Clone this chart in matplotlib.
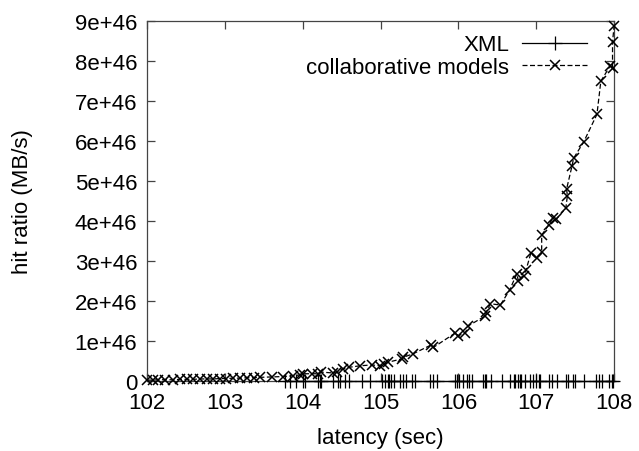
import matplotlib
matplotlib.use("Agg")
import matplotlib.pyplot as plt

plt.rcParams['font.family'] = ['Liberation Sans', 'DejaVu Sans']

# XML series (all at zero)
xml_x = [103.77, 103.84, 103.91, 104.01, 104.03, 104.20, 104.22, 104.24, 104.39,
         104.46, 104.48, 104.54, 104.59, 104.76, 104.87, 105.02, 105.06, 105.09,
         105.11, 105.14, 105.17, 105.25, 105.29, 105.33, 105.40, 105.44, 105.64,
         105.68, 105.72, 105.96, 105.98, 106.01, 106.06, 106.11, 106.14, 106.17,
         106.32, 106.34, 106.36, 106.42, 106.56, 106.66, 106.71, 106.73, 106.76,
         106.79, 106.81, 106.86, 106.92, 106.96, 107.00, 107.03, 107.05, 107.16,
         107.20, 107.27, 107.38, 107.41, 107.47, 107.50, 107.61, 107.77, 107.80,
         107.84, 107.93, 107.97, 107.99]
xml_y = [0.0] * len(xml_x)

# collaborative models series (y in units of 1e46)
collab_x = [102.00, 102.08, 102.14, 102.23, 102.34, 102.42, 102.51, 102.59, 102.68,
            102.77, 102.85, 102.94, 103.02, 103.11, 103.19, 103.28, 103.37, 103.45,
            103.60, 103.75, 103.88, 103.96, 104.01, 104.12, 104.20, 104.24, 104.39,
            104.44, 104.52, 104.59, 104.74, 104.89, 104.99, 105.04, 105.10, 105.27,
            105.29, 105.42, 105.65, 105.68, 105.96, 106.00, 106.09, 106.13, 106.34,
            106.36, 106.41, 106.54, 106.66, 106.75, 106.77, 106.84, 106.87, 106.93,
            107.01, 107.07, 107.07, 107.16, 107.21, 107.26, 107.38, 107.40, 107.39,
            107.46, 107.48, 107.61, 107.78, 107.83, 107.95, 107.98, 107.98, 108.00]
collab_y = [0.02, 0.02, 0.03, 0.03, 0.03, 0.04, 0.04, 0.04, 0.05,
            0.05, 0.05, 0.06, 0.06, 0.07, 0.07, 0.08, 0.08, 0.09,
            0.10, 0.11, 0.13, 0.15, 0.18, 0.18, 0.18, 0.22, 0.20,
            0.23, 0.30, 0.34, 0.38, 0.40, 0.38, 0.42, 0.47, 0.55,
            0.59, 0.68, 0.90, 0.84, 1.20, 1.13, 1.21, 1.38, 1.62,
            1.72, 1.93, 1.90, 2.28, 2.68, 2.51, 2.63, 2.78, 3.19,
            3.07, 3.22, 3.65, 3.90, 4.07, 4.05, 4.32, 4.63, 4.80,
            5.38, 5.57, 5.98, 6.67, 7.50, 7.88, 7.82, 8.48, 8.87]
scale = 1e46

x_ticks = [102, 103, 104, 105, 106, 107, 108]
y_ticks = [0, 1, 2, 3, 4, 5, 6, 7, 8, 9]
y_tick_labels = ['0', '1e+46', '2e+46', '3e+46', '4e+46', '5e+46', '6e+46',
                 '7e+46', '8e+46', '9e+46']

fig = plt.figure(figsize=(6.39, 4.52), dpi=100)
ax = fig.add_axes([0.230, 0.155, 0.731, 0.796])

ax.plot(xml_x, xml_y, color='black', lw=0.9, marker='+', ms=10, mew=0.9,
        clip_on=False, label='XML', zorder=3)
ax.plot(collab_x, [v * scale for v in collab_y], color='black', lw=0.9,
        ls=(0, (4, 2)), marker='x', ms=7, mew=1.1, clip_on=False,
        label='collaborative models', zorder=4)

ax.set_xlim(102, 108)
ax.set_ylim(0, 9 * scale)
ax.set_xticks(x_ticks)
ax.set_xticklabels([str(t) for t in x_ticks])
ax.set_yticks([t * scale for t in y_ticks])
ax.set_yticklabels(y_tick_labels)

ax.tick_params(direction='in', length=6, width=0.9, top=True, right=True,
               labelsize=16, color='#444444')
ax.tick_params(axis='x', pad=8)
ax.tick_params(axis='y', pad=7)
for s in ax.spines.values():
    s.set_linewidth(0.9)
    s.set_color('#444444')

ax.set_xlabel('latency (sec)', fontsize=16, labelpad=10)
ax.set_ylabel('hit ratio (MB/s)', fontsize=16, labelpad=30)

leg = ax.legend(loc='upper right', frameon=False, markerfirst=False,
                fontsize=16, handlelength=2.9, handletextpad=0.6,
                labelspacing=0.05, borderaxespad=0.2, numpoints=1,
                bbox_to_anchor=(0.97, 1.0))

fig.savefig('out.png', dpi=100)
